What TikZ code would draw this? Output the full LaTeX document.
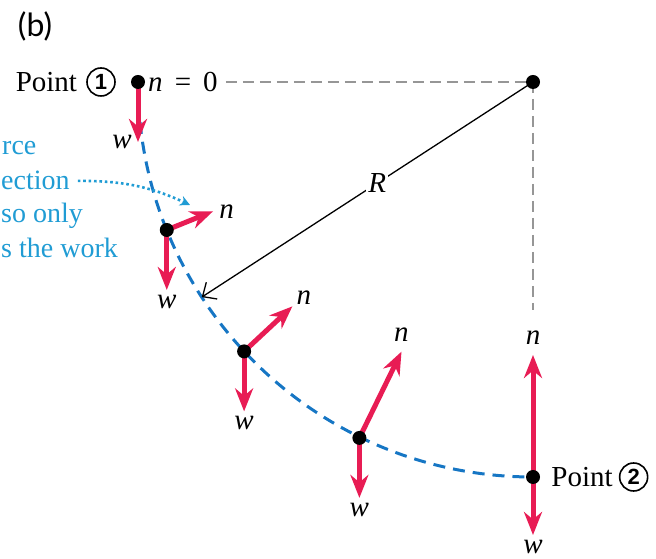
\documentclass[tikz,border=0pt]{standalone}
\usepackage{fontspec}
\setmainfont{Liberation Serif}
\newfontfamily\numfont{Liberation Sans}
\newfontfamily\tagfont{Lato}
\usetikzlibrary{arrows.meta,positioning}
\definecolor{forcered}{RGB}{232,28,84}
\definecolor{pathblue}{RGB}{22,118,196}
\definecolor{noteblue}{RGB}{32,156,212}
\definecolor{guidegray}{RGB}{150,150,150}

\begin{document}
\begin{tikzpicture}[
  x=1pt, y=1pt,
  font=\fontsize{29}{34}\selectfont,
  dot/.style={circle, fill=black, inner sep=0pt, minimum size=14pt},
  force/.style={-{Stealth[length=23pt,width=18pt]}, line width=5pt, forcered},
  track/.style={pathblue, line width=3pt, dash pattern=on 12pt off 8pt},
  guide/.style={guidegray, line width=1.8pt, dash pattern=on 11pt off 6pt},
  lbl/.style={inner sep=2pt, font=\fontsize{29}{34}\selectfont\itshape},
  note/.style={noteblue, anchor=base west, inner sep=0pt, font=\fontsize{28}{34}\selectfont},
  num/.style={draw, circle, line width=1.6pt, inner sep=0pt, minimum size=28pt,
    font=\fontsize{22}{22}\selectfont\numfont\bfseries}
]
\useasboundingbox (0,0) rectangle (656,559);
\clip (0,0) rectangle (656,559);

\node[font=\fontsize{32}{34}\selectfont\tagfont] (tag) at (35,533) {(b)};

% centre of the circle and the points on the path
\coordinate (c) at (533,477);
\coordinate (p1) at ([shift={(180:395)}]c);
\coordinate (d2) at ([shift={(202:395)}]c);
\coordinate (d3) at ([shift={(223:395)}]c);
\coordinate (d4) at ([shift={(244:396)}]c);
\coordinate (p2) at ([shift={(270:395)}]c);
\coordinate (g) at (533,249);
\coordinate (r) at ([shift={(213:395)}]c);

\draw[track] (p1) arc[start angle=180, end angle=270, radius=395];

\node[anchor=west, inner sep=0pt] (n0) at ([xshift=10pt]p1) {\textit{n}\ \,=\ \,0};
\draw[guide, shorten <=8pt] (n0) -- (c);
\draw[guide] (c) -- (g);
\draw[line width=1.3pt, -{Straight Barb[length=11pt,width=20pt]}]
  (c) -- node[pos=0.47, fill=white, lbl]{R} (r);

% weight
\draw[force] (p1) -- ++(0,-60) coordinate (w1);
\draw[force] (d2) -- ++(0,-60) coordinate (w2);
\draw[force] (d3) -- ++(0,-60) coordinate (w3);
\draw[force] (d4) -- ++(0,-60) coordinate (w4);
\draw[force] (p2) -- ++(0,-58) coordinate (w5);
\node[lbl, left=4pt of w1] (w1l) {w};
\node[lbl, below=3pt of w2] (w2l) {w};
\node[lbl, below=3pt of w3] (w3l) {w};
\node[lbl, below=3pt of w4] (w4l) {w};
\node[lbl, below=3pt of w5] (w5l) {w};

% normal force
\draw[force] (d2) -- ++(22:50) coordinate (n2);
\draw[force] (d3) -- ++(43:66) coordinate (n3);
\draw[force] (d4) -- ++(64:96) coordinate (n4);
\draw[force] (p2) -- ++(90:122) coordinate (n5);
\node[lbl, right=4pt of n2] (n2l) {n};
\node[lbl, above right=0pt and 2pt of n3] (n3l) {n};
\node[lbl, above=8pt of n4] (n4l) {n};
\node[lbl, above=8pt of n5] (n5l) {n};

% side note
\node[note] (note1) at (2,404) {rce};
\node[note] (note2) at (1,369) {ection};
\node[note] (note3) at (1,336) {so only};
\node[note] (note4) at (1,301) {s the work};
\coordinate (tipc) at (190,354);
\draw[noteblue, line width=2.6pt, dash pattern=on 2.6pt off 2.8pt, shorten <=8pt,
  -{Stealth[length=10pt,width=10pt]}] (note2.east) to[out=0, in=155] (tipc);

\node[dot] (dot1) at (p1) {};
\node[dot] (dot2) at (d2) {};
\node[dot] (dot3) at (d3) {};
\node[dot] (dot4) at (d4) {};
\node[dot] (dot5) at (p2) {};
\node[dot] (dotc) at (c) {};

\node[num, left=15pt of dot1] (num1) {1};
\node[inner sep=0pt, left=9pt of num1] (pt1) {Point};
\node[inner sep=0pt, right=11pt of dot5] (pt2) {Point};
\node[num, right=6pt of pt2] (num2) {2};
\end{tikzpicture}
\end{document}
